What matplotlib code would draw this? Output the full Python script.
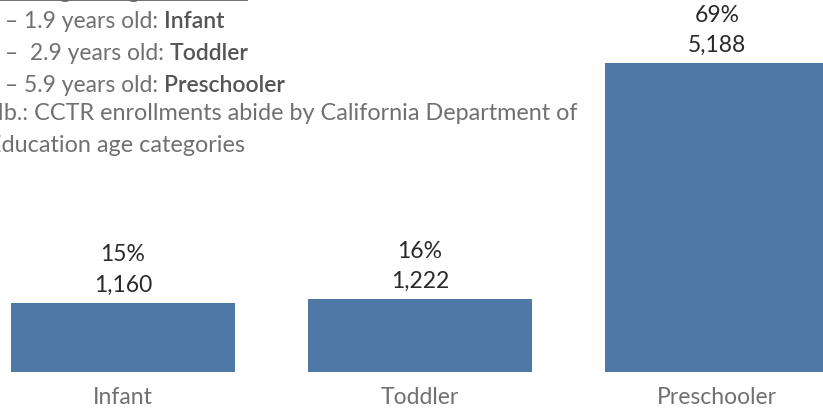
import matplotlib.pyplot as plt
from matplotlib.lines import Line2D

# данные
categories = ["Infant", "Toddler", "Preschooler"]
counts = [1160, 1222, 5188]
shares = ["15%", "16%", "69%"]

notes_plain = ["– 1.9 years old: ", "–  2.9 years old: ", "– 5.9 years old: "]
notes_bold = ["Infant", "Toddler", "Preschooler"]
footnote = ["Nb.: CCTR enrollments abide by California Department of",
            "Education age categories"]

W, H = 823, 410
plt.rcParams['font.family'] = ['Lato', 'DejaVu Sans']

fig = plt.figure(figsize=(W / 100, H / 100), dpi=100)
# оси: низ столбцов на 373 px сверху, шаг между столбцами 297 px
base = 373
ax = fig.add_axes([0, (H - base) / H, 1, base / H])
px_per_unit = 309 / 5188
ax.set_ylim(0, base / px_per_unit)
ax.set_xlim(-123 / 297, (W - 123) / 297)

x = range(len(categories))
ax.bar(x, counts, width=224 / 297, color="#4E79A7")
ax.axis("off")

for i in x:
    ax.annotate(f"{counts[i]:,}", (i, counts[i]), xytext=(0, 19), textcoords="offset pixels",
                ha="center", va="center", fontsize=16.5, color="#2a2a2a")
    ax.annotate(shares[i], (i, counts[i]), xytext=(0, 49), textcoords="offset pixels",
                ha="center", va="center", fontsize=16.5, color="#2a2a2a")
    ax.annotate(categories[i], (i, 0), xytext=(0, -25), textcoords="offset pixels",
                ha="center", va="center", fontsize=16.5, color="#707070",
                annotation_clip=False)


def fy(px):
    return 1 - px / H


# заголовок, обрезанный сверху
fig.text(-8 / W, fy(-9), "CDE Age Range Definitions:", fontsize=16.5, color="#666666", va="center")
fig.add_artist(Line2D([0, 247 / W], [fy(1), fy(1)], color="#666666", lw=1.3))

fig.canvas.draw()
r = fig.canvas.get_renderer()
ys = [21, 53, 85]
for plain, bold, yy in zip(notes_plain, notes_bold, ys):
    t = fig.text(5 / W, fy(yy), plain, fontsize=16.5, color="#707070", va="center")
    ext = t.get_window_extent(r)
    fig.text(ext.x1 / W, fy(yy), bold, fontsize=16.5, color="#555555", va="center",
             fontweight="semibold")

fig.text(-14 / W, fy(114), footnote[0], fontsize=16.8, color="#707070", va="center")
fig.text(-12 / W, fy(145), footnote[1], fontsize=16.8, color="#707070", va="center")

fig.savefig("out.png", dpi=100)
